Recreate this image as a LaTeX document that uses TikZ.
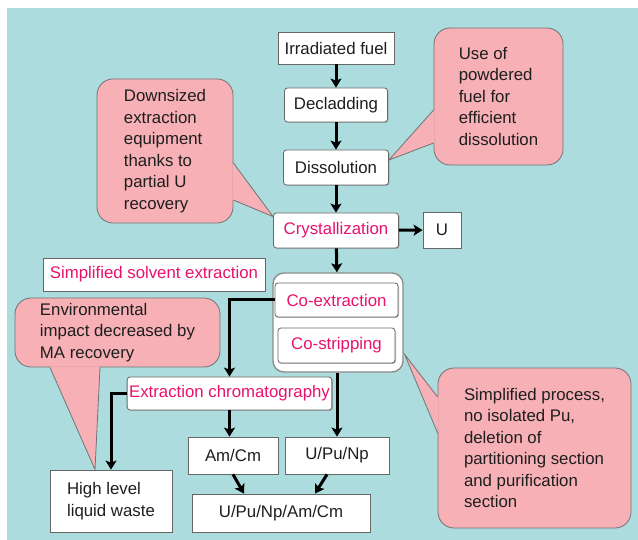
\documentclass[tikz,border=0pt]{standalone}
\usepackage{fontspec}
\setmainfont{Liberation Sans}
\usetikzlibrary{calc}
\usetikzlibrary{positioning}
\usetikzlibrary{arrows.meta,shadows}
\definecolor{panel}{RGB}{172,220,221}
\definecolor{note}{RGB}{246,176,182}
\definecolor{hilite}{RGB}{232,18,108}
\definecolor{ink}{RGB}{30,30,30}
\tikzset{
	>={Stealth[length=9pt,width=11pt,inset=2pt]},
	plainbox/.style={
		rectangle, 
		fill=white,
		draw=black!60, thick,
		drop shadow={fill=black!40, opacity=.6, shadow xshift=1pt, shadow yshift=-1pt},
		text=ink,
		inner sep=2pt,
		text centered},
	roundbox/.style={
		plainbox,
		rounded corners=3pt},
	keybox/.style={roundbox, text=hilite},
	remark/.style={
		rectangle, 
		rounded corners=16pt,
		fill=note,
		draw=black!55, thick,
		text=ink,
		align=left},
	flow/.style={draw, line width=3pt, ->},
	tip/.style={fill=note},
	tipedge/.style={draw=black!55, thick},
}

\begin{document}
\begin{tikzpicture}
	[x=1pt,y=-1pt,
	font=\fontsize{16.8}{21.5}\selectfont]
	
	\useasboundingbox (0,0) rectangle (638,540);
	\fill[white] (0,0) rectangle (638,540);
	\fill[panel] (7,8) rectangle (638,540);
	
	% main line
	\node[plainbox, minimum width=116, minimum height=32] (fuel) at (336,48) {Irradiated fuel};
	\node[roundbox, minimum width=103, minimum height=34] (declad) at (336,105) {Decladding};
	\node[roundbox, minimum width=105, minimum height=35] (dissol) at (336,167.5) {Dissolution};
	\node[keybox, minimum width=125, minimum height=35] (cryst) at (336,230.5) {Crystallization};
	\node[plainbox, minimum width=38, minimum height=36] (uout) at (442,230) {U};
	
	\node[plainbox, text=hilite, minimum width=222, minimum height=33] (sse) at (154,274.5) {Simplified solvent extraction};
	
	\node[rectangle, rounded corners=11pt, fill=white, draw=black!45, line width=1.4pt,
		minimum width=130, minimum height=99] (group) at (338,322.5) {};
	\node[keybox, minimum width=123, minimum height=34] (coext) at (336.5,300) {Co-extraction};
	\node[keybox, minimum width=117, minimum height=35] (costrip) at (336.5,345.5) {Co-stripping};
	
	\node[keybox, minimum width=193, minimum height=33] (extchrom) at (229.5,393.5) {Extraction chromatography};
	\node[plainbox, minimum width=90, minimum height=37] (amcm) at (233,455.5) {Am/Cm};
	\node[plainbox, minimum width=104, minimum height=37] (upunp) at (337,455.5) {U/Pu/Np};
	\node[plainbox, minimum width=178, minimum height=38] (all) at (281,513) {U/Pu/Np/Am/Cm};
	\node[plainbox, align=left, minimum width=122, minimum height=62] (hlw) at (111,501) {High level\\liquid waste};
	
	% arrows
	\draw[flow] (fuel) -- (declad);
	\draw[flow] (declad) -- (dissol);
	\draw[flow] (dissol) -- (cryst);
	\draw[flow] (cryst) -- (uout);
	\draw[flow] (cryst) -- (group);
	\draw[flow] (coext.west) -| (extchrom.north);
	\draw[flow] (upunp.north |- group.south) -- (upunp.north);
	\draw[flow] (extchrom.south) -- (extchrom.south |- amcm.north);
	\draw[flow] (extchrom.west) -| (hlw.north);
	\draw[flow] (amcm.south) -- ($(all.north)+(-37,0)$);
	\draw[flow] ($(upunp.south)+(-10,0)$) -- ($(all.north)+(34,0)$);
	
	% remarks
	\node[remark, minimum width=136, minimum height=144] (cdown) at (165,151)
		{Downsized\\extraction\\equipment\\thanks to\\partial U\\recovery};
	\fill[tip] ($(cdown.east)+(-1,12)$) -- ($(cryst.north west)+(0,4)$) -- ($(cdown.east)+(-1,49)$) -- cycle;
	\draw[tipedge] ($(cdown.east)+(0,12)$) -- ($(cryst.north west)+(0,4)$) -- ($(cdown.east)+(0,49)$);
	
	\node[remark, minimum width=129, minimum height=137] (cuse) at (498.5,96.5)
		{Use of\\powdered\\fuel for\\efficient\\dissolution};
	\fill[tip] ($(cuse.west)+(1,13.5)$) -- ($(dissol.east)+(0,-7.5)$) -- ($(cuse.west)+(1,46.5)$) -- cycle;
	\draw[tipedge] ($(cuse.west)+(0,13.5)$) -- ($(dissol.east)+(0,-7.5)$) -- ($(cuse.west)+(0,46.5)$);
	
	\node[remark, minimum width=205, minimum height=69] (cenv) at (117.5,332.5)
		{Environmental\\impact decreased by\\MA recovery};
	\fill[tip] ($(cenv.south)+(-67.5,-1)$) -- ($(hlw.north)+(-16,0)$) -- ($(cenv.south)+(-17.5,-1)$) -- cycle;
	\draw[tipedge] ($(cenv.south)+(-67.5,0)$) -- ($(hlw.north)+(-16,0)$) -- ($(cenv.south)+(-17.5,0)$);
	
	\node[remark, minimum width=193, minimum height=160] (csimp) at (534.5,448)
		{Simplified process,\\no isolated Pu,\\deletion of\\partitioning section\\and purification\\section};
	\fill[tip] ($(csimp.west)+(1,-51)$) -- ($(group.east)+(1,32)$) -- ($(csimp.west)+(1,-15)$) -- cycle;
	\draw[tipedge] ($(csimp.west)+(0,-51)$) -- ($(group.east)+(1,32)$) -- ($(csimp.west)+(0,-15)$);
	
\end{tikzpicture}
\end{document}
